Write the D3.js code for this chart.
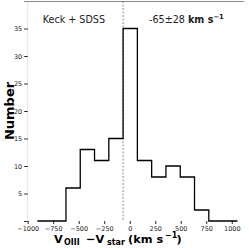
<!DOCTYPE html>
<html>
<head>
<meta charset="utf-8">
<style>
  body { margin: 0; background: #fff; }
  svg { display: block; font-family: "DejaVu Sans", sans-serif; }
</style>
</head>
<body>
<svg></svg>
<script src="https://d3js.org/d3.v7.min.js"></script>
<script>
// histogram bin edges (km/s) and counts per bin
var binEdges = [-905, -765, -625, -485, -345, -205, -65, 75, 215, 355, 495, 635, 775, 915, 1055];
var counts   = [0, 0, 6, 13, 11, 15, 35, 11, 8, 10, 8, 2, 0, 0];
var xTicks = [-1000, -750, -500, -250, 0, 250, 500, 750, 1000];
var yTicks = [0, 5, 10, 15, 20, 25, 30, 35];
var medianV = -65;

var svg = d3.select("svg").attr("width", 249).attr("height", 248);

var x = d3.scaleLinear().domain([-1000, 1120]).range([27.7, 244]);
var y = d3.scaleLinear().domain([0, 40]).range([221, 1]);

// frame: faint left spine, grey top line
svg.append("line").attr("x1", x(-1000)).attr("x2", x(-1000)).attr("y1", 1).attr("y2", 221)
    .attr("stroke", "#e4e4e4").attr("stroke-width", 1);
svg.append("line").attr("x1", 24).attr("x2", 244).attr("y1", 1.5).attr("y2", 1.5)
    .attr("stroke", "#8a8a8a").attr("stroke-width", 1);

// axes
var xAxis = d3.axisBottom(x).tickValues(xTicks).tickSize(3).tickPadding(2)
    .tickFormat(function(d) { return d < 0 ? "\u2212" + Math.abs(d) : d; });
var gx = svg.append("g").attr("transform", "translate(0,221)").call(xAxis);
gx.select(".domain").remove();
gx.selectAll("text").attr("font-size", 6.5).attr("fill", "#222").attr("font-family", "DejaVu Sans");
gx.selectAll("line").attr("stroke", "#222");

var yAxis = d3.axisLeft(y).tickValues(yTicks).tickSize(3.5).tickPadding(2)
    .tickFormat(function(d) { return d === 0 ? "" : d; });
var gy = svg.append("g").attr("transform", "translate(" + x(-1000) + ",0)").call(yAxis);
gy.select(".domain").remove();
gy.selectAll("text").attr("font-size", 6.5).attr("fill", "#222").attr("font-family", "DejaVu Sans");
gy.selectAll("line").attr("stroke", "#222");

// median line
svg.append("line").attr("x1", x(medianV)).attr("x2", x(medianV)).attr("y1", 1).attr("y2", 221)
    .attr("stroke", "#777").attr("stroke-width", 0.8).attr("stroke-dasharray", "2,1.5");

// step histogram
var pts = [];
for (var i = 0; i < counts.length; i++) {
    pts.push([x(binEdges[i]), y(counts[i])]);
    pts.push([x(binEdges[i + 1]), y(counts[i])]);
}
svg.append("path").attr("d", d3.line()(pts))
    .attr("fill", "none").attr("stroke", "#000").attr("stroke-width", 1.3);

// annotations
svg.append("text").attr("x", 42.7).attr("y", 22.7).attr("font-size", 9.6).attr("fill", "#222")
    .text("Keck + SDSS");
var ann = svg.append("text").attr("x", 149).attr("y", 22.7).attr("font-size", 9.6).attr("fill", "#222");
ann.append("tspan").text("-65\u00b128 ");
ann.append("tspan").attr("font-weight", "bold").text("km s");
ann.append("tspan").attr("font-weight", "bold").attr("font-size", 6.8).attr("dy", -3.5).text("\u22121");

// y label
svg.append("text").attr("transform", "translate(13.5,111) rotate(-90)")
    .attr("text-anchor", "middle").attr("font-size", 13).attr("font-weight", "bold")
    .attr("fill", "#000").text("Number");

// x label (mathtext-like layout)
var xl = svg.append("text").attr("y", 243.3).attr("font-size", 11.3)
    .attr("font-weight", "bold").attr("fill", "#000");
xl.append("tspan").attr("x", 54).text("V");
xl.append("tspan").attr("x", 64).attr("font-size", 8).attr("dy", 2).text("OIII");
xl.append("tspan").attr("x", 86).attr("dy", -2).text("\u2212V");
xl.append("tspan").attr("x", 107).attr("font-size", 8).attr("dy", 2).text("star");
xl.append("tspan").attr("x", 128).attr("dy", -2).text("(km s");
xl.append("tspan").attr("x", 165).attr("font-size", 8).attr("dy", -5).text("\u22121");
xl.append("tspan").attr("x", 176.5).attr("dy", 5).text(")");
</script>
</body>
</html>
